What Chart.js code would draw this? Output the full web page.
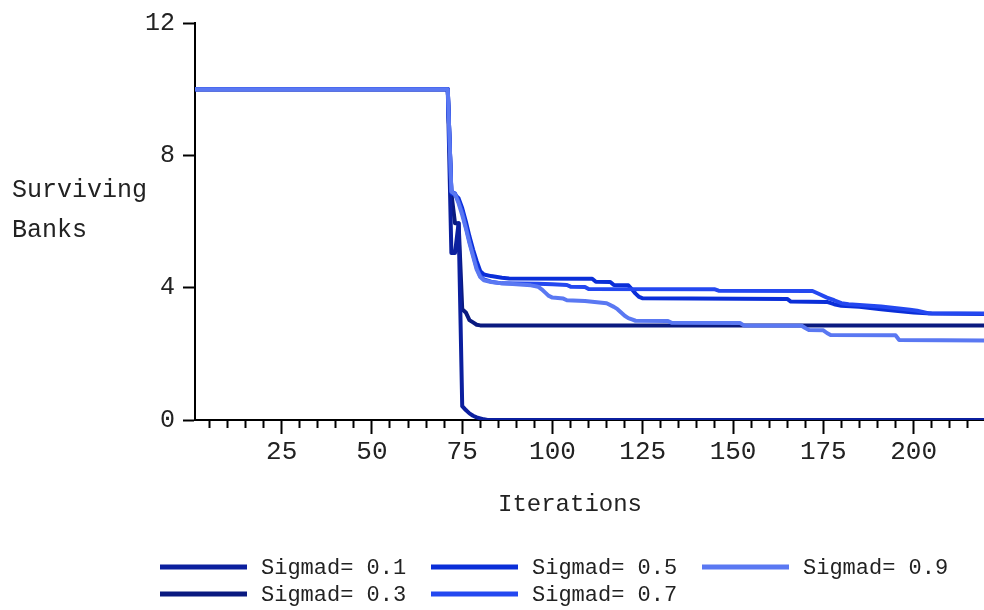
<!DOCTYPE html>
<html>
<head>
<meta charset="utf-8">
<script src="https://cdn.jsdelivr.net/npm/chart.js@4.4.1/dist/chart.umd.min.js"></script>
<style>
  html, body { margin: 0; padding: 0; background: #ffffff; }
</style>
</head>
<body>
<canvas id="graficaBancos" width="984" height="610"></canvas>
<script>
// Datos (iteracion, bancos sobrevivientes)
const iter01 = [1, 71, 72, 73, 74, 75, 76, 77, 78, 79, 80, 81, 82, 220];
const bancos01 = [10, 10, 5.05, 5.05, 5.95, 0.42, 0.3, 0.2, 0.13, 0.08, 0.05, 0.02, 0, 0];

const iter03 = [1, 71, 72, 73, 74, 75, 76, 77, 78, 79, 80, 220];
const bancos03 = [10, 10, 6.85, 5.95, 5.95, 3.35, 3.25, 3.02, 2.95, 2.88, 2.86, 2.86];

const iter05 = [1, 71, 72, 73, 74, 75, 76, 77, 78, 79, 80, 81, 83, 86, 88, 111, 112, 116, 117, 121,
  122, 123, 124, 125, 165, 166, 176, 178, 180, 185, 191, 195, 200, 205, 220];
const bancos05 = [10, 10, 6.85, 6.8, 6.7, 6.4, 6.0, 5.55, 5.15, 4.8, 4.5, 4.4, 4.35, 4.3, 4.28, 4.27, 4.18, 4.17, 4.08, 4.07,
  3.95, 3.82, 3.72, 3.68, 3.66, 3.58, 3.57, 3.5, 3.45, 3.42, 3.35, 3.3, 3.25, 3.22, 3.2];

const iter07 = [1, 71, 72, 73, 74, 75, 76, 77, 78, 79, 80, 81, 83, 86, 96, 100, 104, 105, 109, 110,
  145, 146, 172, 174, 176, 178, 180, 182, 191, 199, 201, 204, 220];
const bancos07 = [10, 10, 6.9, 6.85, 6.6, 6.3, 5.85, 5.4, 5.0, 4.6, 4.35, 4.25, 4.18, 4.13, 4.12, 4.1, 4.08, 4.03, 4.02, 3.96,
  3.95, 3.91, 3.9, 3.8, 3.7, 3.62, 3.53, 3.5, 3.43, 3.33, 3.3, 3.23, 3.22];

const iter09 = [1, 71, 72, 73, 74, 75, 76, 77, 78, 79, 80, 81, 83, 86, 90, 94, 96, 97, 98, 99, 100, 103, 104, 109,
  115, 117, 118, 119, 120, 121, 122, 123, 132, 133, 152, 153, 169, 170, 171, 175, 176, 177, 195, 196, 220];
const bancos09 = [10, 10, 6.9, 6.82, 6.55, 6.2, 5.8, 5.35, 4.95, 4.55, 4.32, 4.22, 4.17, 4.13, 4.1, 4.07, 4.03, 3.95, 3.85, 3.75, 3.7, 3.67, 3.62, 3.6,
  3.53, 3.42, 3.35, 3.25, 3.15, 3.08, 3.04, 3.0, 2.99, 2.94, 2.93, 2.86, 2.85, 2.78, 2.72, 2.71, 2.63, 2.57, 2.56, 2.42, 2.4];

const etiquetas = ['Sigmad= 0.1', 'Sigmad= 0.3', 'Sigmad= 0.5', 'Sigmad= 0.7', 'Sigmad= 0.9'];
const colores = ['#0b1f9e', '#0a1a80', '#0a2ed8', '#2448f0', '#5a78f2'];
const ordenDibujo = [3, 4, 2, 1, 0];
const ticksY = [0, 4, 8, 12];

const series = [
  [iter01, bancos01],
  [iter03, bancos03],
  [iter05, bancos05],
  [iter07, bancos07],
  [iter09, bancos09]
];

const fuente = "'Liberation Mono', monospace";

// textos sueltos y leyenda en dos filas
const textosExtra = {
  id: 'textosExtra',
  afterDraw(chart) {
    const ctx = chart.ctx;
    ctx.save();
    ctx.fillStyle = '#222';
    ctx.font = '25px ' + fuente;
    ctx.textAlign = 'left';
    ctx.textBaseline = 'alphabetic';
    ctx.fillText('Surviving', 12, 197);
    ctx.fillText('Banks', 12, 237);

    ctx.font = '24px ' + fuente;
    ctx.textAlign = 'center';
    ctx.textBaseline = 'middle';
    ctx.fillText('Iterations', 570, 505);

    ctx.font = '22px ' + fuente;
    ctx.textAlign = 'left';
    chart.data.datasets.forEach((ds, i) => {
      const col = Math.floor(i / 2);
      const fila = i % 2;
      const x = 160 + col * 271;
      const y = 567 + fila * 27;
      ctx.strokeStyle = ds.borderColor;
      ctx.lineWidth = 5;
      ctx.beginPath();
      ctx.moveTo(x, y);
      ctx.lineTo(x + 87, y);
      ctx.stroke();
      ctx.fillText(ds.label, x + 101, y + 1);
    });
    ctx.restore();
  }
};

new Chart(document.getElementById('graficaBancos'), {
  type: 'line',
  data: {
    datasets: series.map(([xs, ys], i) => ({
      label: etiquetas[i],
      data: xs.map((x, k) => ({ x: x, y: ys[k] })),
      borderColor: colores[i],
      backgroundColor: colores[i],
      borderWidth: 4,
      borderJoinStyle: 'round',
      pointRadius: 0,
      tension: 0,
      order: ordenDibujo[i]
    }))
  },
  options: {
    responsive: false,
    animation: false,
    layout: { padding: { top: 23, right: 0, left: 0, bottom: 0 } },
    plugins: {
      legend: { display: false },
      tooltip: { enabled: false }
    },
    scales: {
      x: {
        type: 'linear',
        min: 1,
        max: 219.5,
        afterFit: s => { s.height = 190; },
        border: { display: true, color: '#000', width: 2 },
        grid: {
          drawOnChartArea: false,
          tickLength: 14,
          tickWidth: 2,
          tickColor: '#000',
          tickBorderDash: c => (c.tick && c.tick.value % 25 === 0) ? [] : [7, 30]
        },
        ticks: {
          stepSize: 5,
          includeBounds: false,
          autoSkip: false,
          maxRotation: 0,
          padding: 3,
          color: '#222',
          font: { family: fuente, size: 26 },
          callback: v => v % 25 === 0 ? v : ''
        }
      },
      y: {
        min: 0,
        max: 12,
        afterFit: s => { s.width = 195; },
        afterBuildTicks: s => { s.ticks = ticksY.map(v => ({ value: v })); },
        border: { display: true, color: '#000', width: 2 },
        grid: {
          drawOnChartArea: false,
          tickLength: 12,
          tickWidth: 2,
          tickColor: '#000'
        },
        ticks: {
          padding: 8,
          color: '#222',
          font: { family: fuente, size: 25 }
        }
      }
    }
  },
  plugins: [textosExtra]
});
</script>
</body>
</html>
